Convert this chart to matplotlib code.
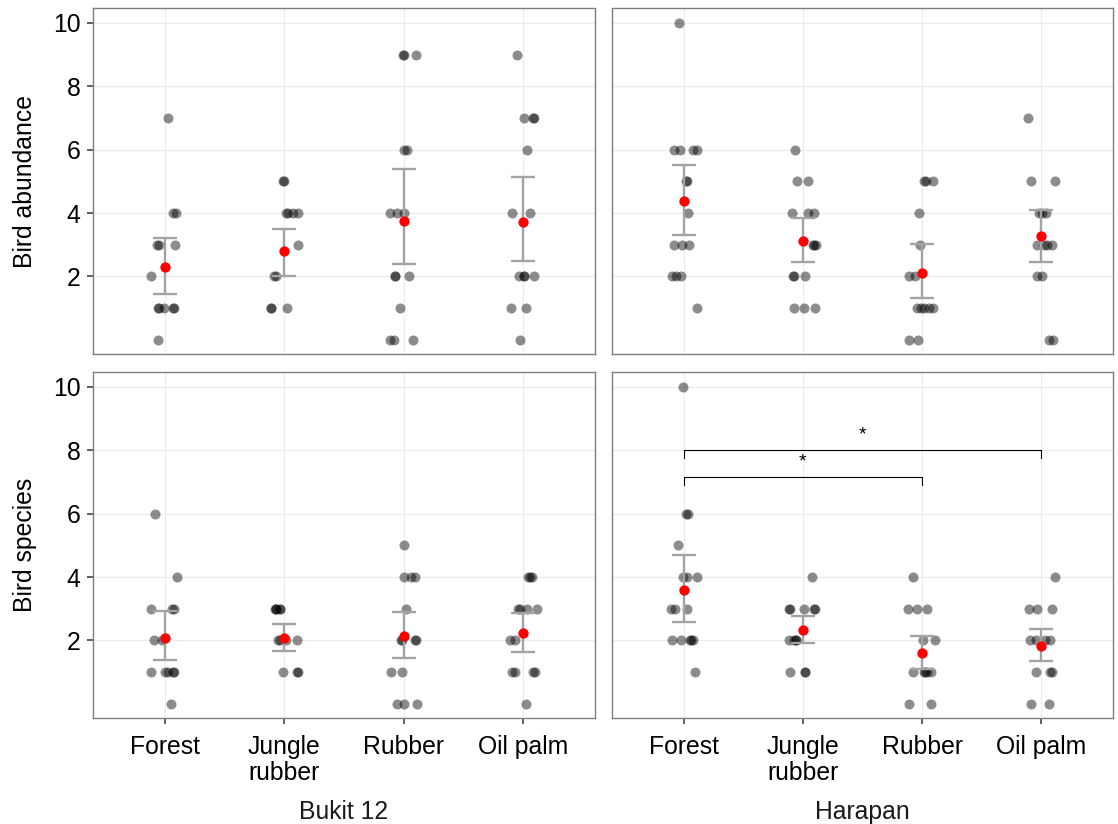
"""Bird abundance and species richness per land-use type, Bukit 12 vs Harapan."""
import matplotlib

matplotlib.use("Agg")
import matplotlib.pyplot as plt  # noqa: E402
import numpy as np  # noqa: E402

plt.rcParams["font.family"] = ["Liberation Sans", "DejaVu Sans"]

LANDUSE = ["Forest", "Jungle\nrubber", "Rubber", "Oil palm"]
REGIONS = ["Bukit 12", "Harapan"]
YLABELS = ["Bird abundance", "Bird species"]

# raw counts per plot
B12_ABUND = [
    [7, 4, 4, 3, 3, 3, 2, 1, 1, 1, 1, 1, 0],
    [5, 5, 4, 4, 4, 4, 3, 2, 2, 1, 1, 1],
    [9, 9, 9, 6, 6, 4, 4, 4, 2, 2, 2, 1, 0, 0, 0],
    [9, 7, 7, 7, 6, 4, 4, 2, 2, 2, 2, 1, 1, 0],
]
HAR_ABUND = [
    [10, 6, 6, 6, 6, 5, 5, 4, 3, 3, 3, 2, 2, 2, 1],
    [6, 5, 5, 4, 4, 4, 3, 3, 3, 2, 2, 2, 1, 1, 1],
    [5, 5, 5, 4, 3, 2, 2, 1, 1, 1, 1, 1, 0, 0],
    [7, 5, 5, 4, 4, 4, 3, 3, 3, 3, 2, 2, 0, 0],
]
B12_SPEC = [
    [6, 4, 3, 3, 3, 2, 2, 1, 1, 1, 1, 1, 0],
    [3, 3, 3, 3, 3, 2, 2, 2, 2, 1, 1, 1],
    [5, 4, 4, 4, 3, 2, 2, 2, 2, 1, 1, 0, 0, 0],
    [4, 4, 4, 3, 3, 3, 3, 2, 2, 1, 1, 1, 1, 0],
]
HAR_SPEC = [
    [10, 6, 6, 5, 4, 4, 4, 3, 3, 3, 2, 2, 2, 2, 2, 1],
    [4, 3, 3, 3, 3, 3, 2, 2, 2, 2, 1, 1, 1],
    [4, 3, 3, 3, 2, 2, 1, 1, 1, 1, 1, 0, 0],
    [4, 3, 3, 3, 2, 2, 2, 2, 1, 1, 1, 0, 0],
]

# model means and interval bounds (red dots + grey bars)
B12_ABUND_MEAN = [2.30, 2.80, 3.76, 3.73]
B12_ABUND_LO = [1.45, 2.00, 2.39, 2.48]
B12_ABUND_HI = [3.22, 3.50, 5.38, 5.14]
HAR_ABUND_MEAN = [4.38, 3.13, 2.12, 3.26]
HAR_ABUND_LO = [3.32, 2.45, 1.33, 2.45]
HAR_ABUND_HI = [5.50, 3.83, 3.02, 4.08]
B12_SPEC_MEAN = [2.08, 2.08, 2.14, 2.22]
B12_SPEC_LO = [1.37, 1.68, 1.45, 1.63]
B12_SPEC_HI = [2.94, 2.53, 2.90, 2.87]
HAR_SPEC_MEAN = [3.58, 2.33, 1.60, 1.82]
HAR_SPEC_LO = [2.59, 1.93, 1.11, 1.35]
HAR_SPEC_HI = [4.69, 2.77, 2.14, 2.35]

# significance brackets in Harapan / species: (from, to, height, label)
SIG_BRACKETS = [(0, 3, 8.0, "*"), (0, 2, 7.15, "*")]

PANELS = [
    [(B12_ABUND, B12_ABUND_MEAN, B12_ABUND_LO, B12_ABUND_HI),
     (HAR_ABUND, HAR_ABUND_MEAN, HAR_ABUND_LO, HAR_ABUND_HI)],
    [(B12_SPEC, B12_SPEC_MEAN, B12_SPEC_LO, B12_SPEC_HI),
     (HAR_SPEC, HAR_SPEC_MEAN, HAR_SPEC_LO, HAR_SPEC_HI)],
]

W, H = 1118, 824
COLS = [(93, 595), (612, 1113)]
ROWS = [(8, 354), (372, 718)]
FS = 17.8


def main() -> None:
    fig = plt.figure(figsize=(W / 100, H / 100), dpi=100)
    rng = np.random.default_rng(7)
    x = np.arange(len(LANDUSE))
    for r, (top, bot) in enumerate(ROWS):
        for c, (left, right) in enumerate(COLS):
            ax = fig.add_axes([left / W, 1 - bot / H, (right - left) / W, (bot - top) / H])
            pts, mean, lo, hi = PANELS[r][c]
            for i, vals in enumerate(pts):
                v = np.asarray(vals, float)
                jx = i + rng.uniform(-0.12, 0.12, len(v))
                ax.scatter(jx, v, s=52, color="black", alpha=0.45, lw=0, zorder=3)
            mean = np.asarray(mean)
            yerr = [mean - np.asarray(lo), np.asarray(hi) - mean]
            ax.errorbar(x, mean, yerr=yerr, fmt="none", ecolor="#a3a3a3",
                        elinewidth=1.7, capsize=8.4, capthick=1.7, zorder=4)
            ax.scatter(x, mean, s=55, color="red", lw=0, zorder=5)

            ax.set_xlim(-0.6, 3.6)
            ax.set_ylim(-0.45, 10.47)
            ax.set_yticks([2, 4, 6, 8, 10])
            ax.set_xticks(x)
            ax.grid(True, color="#ebebeb", lw=0.8, zorder=0)
            ax.set_axisbelow(True)
            for sp in ax.spines.values():
                sp.set_color("#7f7f7f")
                sp.set_linewidth(1.0)
            ax.tick_params(axis="both", length=4, width=1.1, color="#333333",
                           labelsize=FS, labelcolor="black", pad=5)
            if c == 0:
                ax.set_yticklabels(["2", "4", "6", "8", "10"])
            else:
                ax.tick_params(axis="y", length=0, labelleft=False)
            if r == 1:
                ax.set_xticklabels(LANDUSE, linespacing=1.12)
                ax.tick_params(axis="x", pad=8)
            else:
                ax.tick_params(axis="x", length=0, labelbottom=False)

            if r == 1 and c == 1:
                for a, b, yb, lab in SIG_BRACKETS:
                    ax.plot([a, a, b, b], [yb - 0.25, yb, yb, yb - 0.25],
                            color="black", lw=0.8, zorder=6)
                    ax.text((a + b) / 2, yb + 0.2, lab, ha="center", va="bottom",
                            fontsize=14, color="black")
        fig.text(25 / W, 1 - (top + bot) / 2 / H, YLABELS[r], rotation=90,
                 ha="center", va="center", fontsize=FS, color="black")

    for c, (left, right) in enumerate(COLS):
        fig.text((left + right) / 2 / W, 1 - 812 / H, REGIONS[c],
                 ha="center", va="center", fontsize=FS, color="#1a1a1a")

    fig.savefig("out.png", dpi=100)


if __name__ == "__main__":
    main()
